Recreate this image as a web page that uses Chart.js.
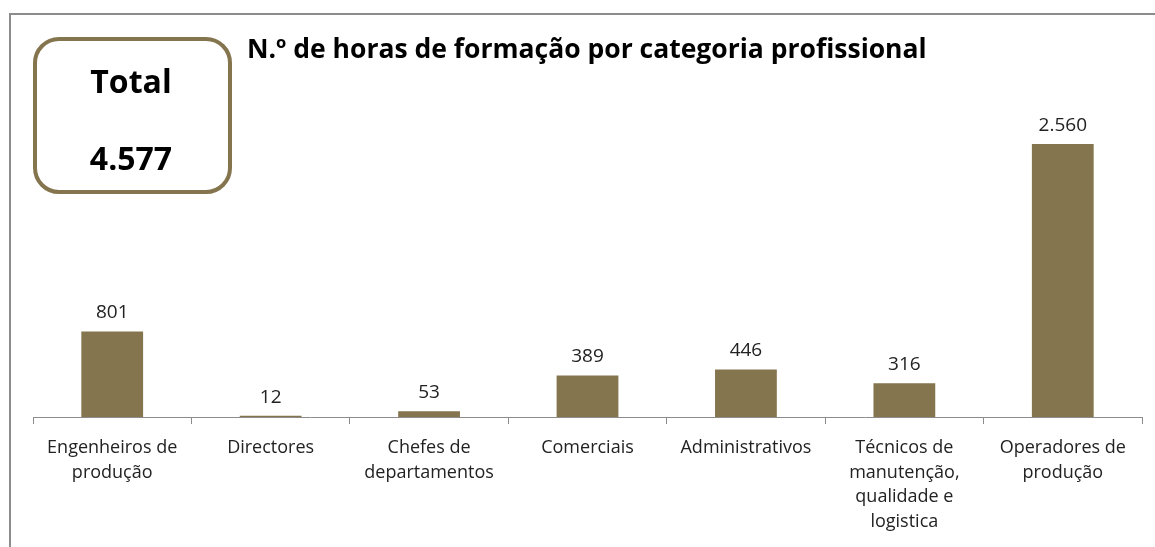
<!DOCTYPE html>
<html>
<head>
<meta charset="utf-8">
<script src="https://cdn.jsdelivr.net/npm/chart.js"></script>
<style>
    html, body { margin: 0; padding: 0; background: #fff; }
    #wrap { width: 1155px; height: 547px; position: relative; }
</style>
</head>
<body>
<div id="wrap"><canvas id="horasChart" width="1155" height="547"></canvas></div>
<script>
// Dados do gráfico
const categorias = [
    ['Engenheiros de', 'produção'],
    ['Directores'],
    ['Chefes de', 'departamentos'],
    ['Comerciais'],
    ['Administrativos'],
    ['Técnicos de', 'manutenção,', 'qualidade e', 'logistica'],
    ['Operadores de', 'produção']
];
const horas = [801, 12, 53, 389, 446, 316, 2560];
const titulo = 'N.º de horas de formação por categoria profissional';

const corBarra = '#85754E';
const fonte = '"Open Sans", "Noto Sans", sans-serif';

function fmtMilhar(v) {
    // separador de milhar com ponto, como no original
    return String(v).replace(/\B(?=(\d{3})+(?!\d))/g, '.');
}

const total = horas.reduce((a, b) => a + b, 0);

// moldura, caixa do total, título e rótulos de valor
const decoracao = {
    id: 'decoracao',
    beforeDraw(chart) {
        const c = chart.ctx;
        c.save();
        c.fillStyle = '#fff';
        c.fillRect(0, 0, chart.width, chart.height);
        c.strokeStyle = '#8c8c8c';
        c.lineWidth = 2;
        c.strokeRect(10, 14, chart.width + 20, chart.height + 20);
        c.restore();
    },
    afterDraw(chart) {
        const c = chart.ctx;
        c.save();
        // caixa Total
        c.strokeStyle = corBarra;
        c.lineWidth = 4;
        c.beginPath();
        c.roundRect(35, 39, 195, 153, 24);
        c.stroke();
        c.fillStyle = '#000';
        c.textAlign = 'center';
        c.textBaseline = 'middle';
        c.font = 'bold 32px ' + fonte;
        c.fillText('Total', 131, 84);
        c.fillText(fmtMilhar(total), 131, 161);
        // título
        c.textAlign = 'left';
        c.font = 'bold 26.5px ' + fonte;
        c.fillText(titulo, 247, 50);
        // valores
        const meta = chart.getDatasetMeta(0);
        c.textAlign = 'center';
        c.textBaseline = 'bottom';
        c.fillStyle = '#222';
        c.font = '19px ' + fonte;
        meta.data.forEach((bar, i) => {
            c.fillText(fmtMilhar(horas[i]), bar.x, bar.y - 9);
        });
        c.restore();
    }
};

new Chart(document.getElementById('horasChart'), {
    type: 'bar',
    data: {
        labels: categorias,
        datasets: [{
            data: horas,
            backgroundColor: corBarra,
            borderWidth: 0,
            categoryPercentage: 1,
            barPercentage: 0.39
        }]
    },
    options: {
        responsive: false,
        animation: false,
        layout: { padding: { top: 97, left: 33, right: 13, bottom: 0 } },
        plugins: {
            legend: { display: false },
            title: { display: false },
            tooltip: { enabled: false }
        },
        scales: {
            y: { display: false, min: 0, max: 3000 },
            x: {
                border: { display: true, color: '#8c8c8c', width: 1 },
                grid: {
                    offset: true,
                    drawOnChartArea: false,
                    drawTicks: true,
                    tickLength: 7,
                    color: '#8c8c8c'
                },
                ticks: {
                    color: '#222',
                    padding: 12,
                    maxRotation: 0,
                    autoSkip: false,
                    font: { family: fonte, size: 18, lineHeight: 1.36 }
                },
                afterFit(axis) { axis.height = 130; }
            }
        }
    },
    plugins: [decoracao]
});
</script>
</body>
</html>
